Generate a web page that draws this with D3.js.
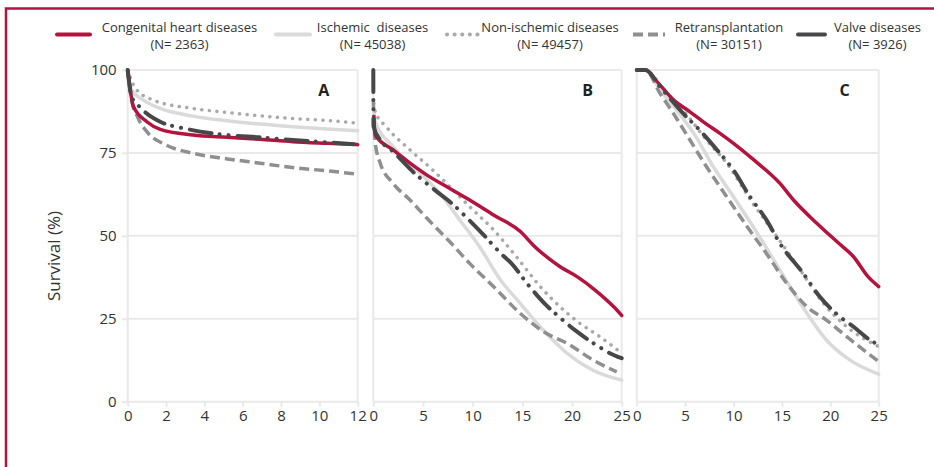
<!DOCTYPE html>
<html>
<head>
<meta charset="utf-8">
<script src="https://cdn.jsdelivr.net/npm/d3@7"></script>
<style>
  body { margin: 0; background: #fff; }
  svg { display: block; font-family: "Open Sans", "Noto Sans", sans-serif; }
</style>
</head>
<body>
<div id="chart"></div>
<script>
var width = 934, height = 467;

// series (legend order)
var seriesNames = ["Congenital heart diseases", "Ischemic  diseases", "Non-ischemic diseases", "Retransplantation", "Valve diseases"];
var seriesN = ["(N= 2363)", "(N= 45038)", "(N= 49457)", "(N= 30151)", "(N= 3926)"];
var panelLabels = ["A", "B", "C"];
var yTicks = [0, 25, 50, 75, 100];
var xTicksA = [0, 2, 4, 6, 8, 10, 12];
var xTicksBC = [0, 5, 10, 15, 20, 25];

// panel A : [years, survival %]
var congenitalA = [[0,100],[0.3,89],[1,84.4],[1.7,82.1],[3.4,80.4],[5.2,79.7],[6.9,79.1],[8.6,78.4],[10.4,77.9],[12,77.5]];
var ischemicA = [[0,100],[0.2,94],[0.8,91],[1.7,88.4],[3.4,86.1],[5.2,84.7],[6.9,83.7],[8.6,82.9],[10.4,82.2],[12,81.7]];
var nonIschemicA = [[0,100],[0.4,94.5],[1.3,91],[3.4,88.4],[5.2,87.2],[6.9,86.2],[8.6,85.4],[10.4,84.8],[11.8,84.1]];
var retransA = [[0,100],[0.2,91],[0.5,86],[1,81.4],[2,77.4],[3.4,74.9],[5.2,73.2],[6.9,71.9],[8.6,70.6],[10.4,69.6],[12,68.6]];
var valveA = [[0,100],[0.2,92],[0.6,89],[1.2,86],[1.7,84.4],[3.1,82.2],[5.2,80.4],[6.9,79.7],[8.6,78.9],[10.4,78.2],[11.8,77.6]];

// panel B
var congenitalB = [[0.05,86],[0.2,80.4],[2,75.9],[3.7,71.9],[5.4,68.3],[7.7,64.3],[9.7,60.8],[12.1,56.3],[14.8,51.3],[16.1,47.2],[18.8,40.7],[20.5,37.7],[22.1,34.2],[24.2,28.6],[25,26]];
var ischemicB = [[0.05,88],[0.2,84.4],[2,76.9],[4.4,69.8],[6.7,62.8],[8.7,54.8],[10.7,46.7],[12.8,36.7],[14.8,29.6],[17.1,21.6],[19.5,14.6],[22.1,9.5],[25,6.5]];
var nonIschemicB = [[0.05,90],[0.2,87.4],[1.3,82.9],[3.7,75.9],[6,69.8],[7.7,64.8],[9.7,58.8],[12.1,51.8],[14.4,43.7],[16.8,34.7],[18.8,28.6],[20.8,23.6],[22.8,19.6],[25,14.6]];
var retransB = [[0,91],[0.2,77.9],[0.7,71.9],[2,65.8],[3.7,60.8],[5.4,55.3],[7.7,48.2],[9.7,41.7],[12.1,34.7],[14.8,26.6],[17.4,20.6],[19.5,17.6],[22.1,12.6],[24.5,9]];
var valveB = [[0,100],[0.02,83],[0.7,78.9],[2,75.4],[4,69.3],[6.2,63.8],[8.2,59],[9.2,56.1],[11.1,50.3],[12.9,44.5],[13.9,41.7],[15.6,35.2],[17.4,29.1],[18.5,26.1],[20.5,21.1],[22.7,16.6],[23.8,14.6],[25,13.1]];

// panel C
var congenitalC = [[0,100],[0.9,100],[2.1,96.5],[3.8,91],[5.5,87.4],[7.1,83.9],[8.6,80.9],[10,77.9],[12.1,72.9],[14.8,65.8],[16.2,60.8],[18.6,53.8],[20.7,48.2],[22.4,43.7],[23.9,37.7],[25,34.7]];
var ischemicC = [[0,100],[0.9,100],[2.4,94],[4.1,87.9],[5.9,80.9],[7.9,70.9],[10,61.8],[12.7,49.7],[15.2,37.7],[17.6,26.6],[19.6,18.6],[22,12.6],[25,8.3]];
var nonIschemicC = [[0,100],[0.9,100],[2.8,94],[4.8,87.9],[7.2,78.9],[9.3,71.9],[12,59.8],[14.5,49.7],[16.9,39.7],[19.3,29.6],[21.7,22.6],[25,16.6]];
var retransC = [[0,100],[0.9,100],[2.4,93],[3.8,86.9],[5.5,78.9],[7.2,70.9],[9.3,61.8],[11.4,52.8],[13.4,44.7],[15.5,35.7],[17.6,28.6],[19.6,24.6],[21.7,19.6],[25,12.1]];
var valveC = [[0,100],[0.9,100],[2.4,95],[4.8,86.9],[6.5,81.9],[8.3,75.9],[10,69.8],[11.7,61.8],[13.4,54.8],[14.8,47.7],[17.2,38.7],[18.9,31.7],[21,25.6],[22.4,22.6],[24.1,18.6],[25,17.1]];

var styles = [
  {color: "#b5123e", width: 3.5, dash: null, cap: "round"},
  {color: "#dadada", width: 3.5, dash: null, cap: "round"},
  {color: "#a9a9ab", width: 3.5, dash: "0.1 7.5", cap: "round"},
  {color: "#8f8f91", width: 3.5, dash: "10 5", cap: "butt"},
  {color: "#47474a", width: 4, dash: "22 8 0.1 9 0.1 9", cap: "round"}
];
var drawOrder = [1, 2, 3, 0, 4];

var y = d3.scaleLinear().domain([0, 100]).range([401.7, 70]);

var panels = [
  {label: "A", x: d3.scaleLinear().domain([0, 12]).range([127.7, 357.7]), ticks: xTicksA,
   data: [congenitalA, ischemicA, nonIschemicA, retransA, valveA]},
  {label: "B", x: d3.scaleLinear().domain([0, 25]).range([373.3, 621.7]), ticks: xTicksBC,
   data: [congenitalB, ischemicB, nonIschemicB, retransB, valveB]},
  {label: "C", x: d3.scaleLinear().domain([0, 25]).range([636.7, 878.7]), ticks: xTicksBC,
   data: [congenitalC, ischemicC, nonIschemicC, retransC, valveC]}
];

var svg = d3.select("#chart").append("svg")
    .attr("width", width)
    .attr("height", height);

// outer crimson frame (top + left)
svg.append("path")
  .attr("d", "M6,467 V8.5 H934")
  .attr("fill", "none")
  .attr("stroke", "#b5123e")
  .attr("stroke-width", 2.5);

var grid = "#e9e9e9";

panels.forEach((p, pi) => {
  var g = svg.append("g");
  var x0 = p.x.range()[0], x1 = p.x.range()[1];

  // horizontal grid
  g.selectAll("line.h")
    .data(yTicks)
    .join("line")
    .attr("x1", x0).attr("x2", x1)
    .attr("y1", d => y(d)).attr("y2", d => y(d))
    .attr("stroke", grid).attr("stroke-width", 2);

  // vertical frame
  g.selectAll("line.v")
    .data([x0, x1])
    .join("line")
    .attr("x1", d => d).attr("x2", d => d)
    .attr("y1", y(0)).attr("y2", y(100))
    .attr("stroke", grid).attr("stroke-width", 2);

  // x axis
  var ax = g.append("g")
    .attr("transform", `translate(0,${y(0)})`)
    .call(d3.axisBottom(p.x).tickValues(p.ticks).tickSize(5).tickPadding(4).tickSizeOuter(0));
  ax.select(".domain").remove();
  ax.selectAll(".tick line").attr("stroke", grid).attr("stroke-width", 2);
  ax.selectAll(".tick text")
    .attr("fill", "#333")
    .style("font-size", "15px")
    .style("font-family", "'Open Sans', sans-serif");

  if (pi === 0) {
    var ay = g.append("g")
      .attr("transform", `translate(${x0},0)`)
      .call(d3.axisLeft(y).tickValues(yTicks).tickSize(6).tickPadding(5).tickSizeOuter(0));
    ay.select(".domain").remove();
    ay.selectAll(".tick line").attr("stroke", grid).attr("stroke-width", 2);
    ay.selectAll(".tick text")
      .attr("fill", "#333")
      .style("font-size", "15px")
      .style("font-family", "'Open Sans', sans-serif");
  }

  var line = d3.line()
    .x(d => p.x(d[0]))
    .y(d => y(d[1]))
    .curve(d3.curveMonotoneX);

  drawOrder.forEach(si => {
    var s = styles[si];
    g.append("path")
      .datum(p.data[si])
      .attr("d", line)
      .attr("fill", "none")
      .attr("stroke", s.color)
      .attr("stroke-width", s.width)
      .attr("stroke-linecap", s.cap)
      .attr("stroke-linejoin", "round")
      .attr("stroke-dasharray", s.dash);
  });

  g.append("text")
    .attr("x", x1 - 34)
    .attr("y", 96)
    .attr("text-anchor", "middle")
    .attr("fill", "#222")
    .style("font-size", "16px")
    .style("font-weight", "bold")
    .text(p.label);
});

// y axis title
svg.append("text")
  .attr("transform", "translate(60,256) rotate(-90)")
  .attr("text-anchor", "middle")
  .attr("fill", "#333")
  .style("font-size", "17px")
  .text("Survival (%)");

// legend
var legendX = [[57, 90, 179.5], [276, 310, 372.5], [447, 478, 550], [633, 665, 729], [798, 825, 877.5]];
var legend = svg.append("g");
seriesNames.forEach((name, i) => {
  var s = styles[i];
  var lx = legendX[i];
  legend.append("line")
    .attr("x1", lx[0]).attr("x2", lx[1])
    .attr("y1", 34.5).attr("y2", 34.5)
    .attr("stroke", s.color)
    .attr("stroke-width", 4)
    .attr("stroke-linecap", s.cap)
    .attr("stroke-dasharray", i === 4 ? null : s.dash);
  legend.append("text")
    .attr("x", lx[2]).attr("y", 31.5)
    .attr("text-anchor", "middle")
    .attr("fill", "#333")
    .style("font-size", "13px")
    .style("white-space", "pre")
    .attr("xml:space", "preserve")
    .text(name);
  legend.append("text")
    .attr("x", lx[2]).attr("y", 49)
    .attr("text-anchor", "middle")
    .attr("fill", "#333")
    .style("font-size", "13px")
    .text(seriesN[i]);
});
</script>
</body>
</html>
